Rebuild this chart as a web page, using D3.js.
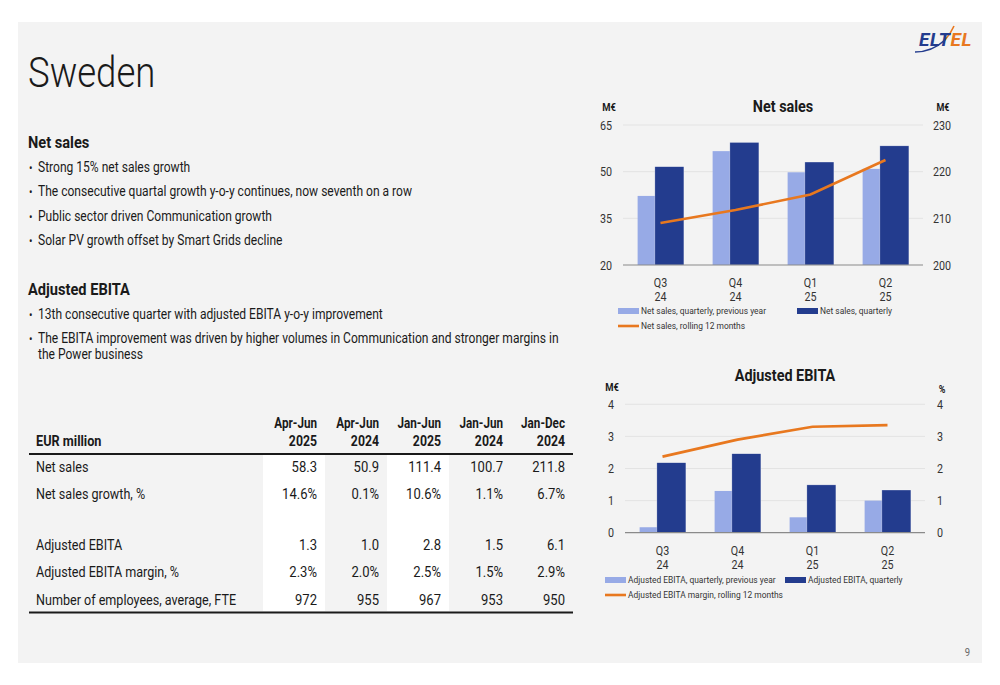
<!DOCTYPE html>
<html><head><meta charset="utf-8">
<script src="https://cdn.jsdelivr.net/npm/d3@7/dist/d3.min.js"></script>
<style>
body{margin:0;background:#fff}
svg{display:block}
text{font-family:Roboto,"Liberation Sans",sans-serif;fill:#1a1a1a}
</style>
</head><body>
<svg id="c" width="1000" height="685"></svg>
<script>
// ---------- data ----------
const quarterLabels = ["Q3","Q4","Q1","Q2"];
const yearLabels = ["24","24","25","25"];

const netSalesPrev = [42.2, 56.6, 49.8, 50.9];
const netSalesCur = [51.6, 59.4, 53.1, 58.3];
const netSalesRolling = [209.0, 211.8, 215.1, 222.5];
const netSalesLeftTicks = [20, 35, 50, 65];
const netSalesRightTicks = [200, 210, 220, 230];

const ebitaPrev = [0.17, 1.3, 0.48, 1.0];
const ebitaCur = [2.18, 2.46, 1.49, 1.33];
const ebitaMargin = [2.37, 2.9, 3.3, 3.35];
const ebitaLeftTicks = [0, 1, 2, 3, 4];
const ebitaRightTicks = [0, 1, 2, 3, 4];

const tableHeadTop = ["Apr-Jun","Apr-Jun","Jan-Jun","Jan-Jun","Jan-Dec"];
const tableHeadBottom = ["2025","2024","2025","2024","2024"];
const rowLabels = ["Net sales","Net sales growth, %","Adjusted EBITA","Adjusted EBITA margin, %","Number of employees, average, FTE"];
const rowNetSales = ["58.3","50.9","111.4","100.7","211.8"];
const rowGrowth = ["14.6%","0.1%","10.6%","1.1%","6.7%"];
const rowEbita = ["1.3","1.0","2.8","1.5","6.1"];
const rowMargin = ["2.3%","2.0%","2.5%","1.5%","2.9%"];
const rowEmployees = ["972","955","967","953","950"];

const netSalesBullets = [
  "Strong 15% net sales growth",
  "The consecutive quartal growth y-o-y continues, now seventh on a row",
  "Public sector driven Communication growth",
  "Solar PV growth offset by Smart Grids decline"
];
const ebitaBullets = [
  ["13th consecutive quarter with adjusted EBITA y-o-y improvement"],
  ["The EBITA improvement was driven by higher volumes in Communication and stronger margins in","the Power business"]
];

// ---------- styles ----------
const C_LIGHT = "#97aae6", C_DARK = "#233c8e", C_ORANGE = "#e8781f";
const svg = d3.select("#c");

svg.append("rect").attr("x",18).attr("y",22).attr("width",964).attr("height",641).attr("fill","#f3f3f3");

// logo
const logo = svg.append("g");
logo.append("path").attr("d","M915,52 Q932,52 945,40").attr("fill","none").attr("stroke",C_DARK).attr("stroke-width",1.6);
logo.append("path").attr("d","M945,40 Q951,33 954,26").attr("fill","none").attr("stroke",C_ORANGE).attr("stroke-width",1.6);
const lt = logo.append("text").attr("x",919).attr("y",46).attr("font-size",19).attr("font-weight","bold").attr("font-style","italic").attr("letter-spacing",0.6).attr("data-sx",1);
lt.append("tspan").text("ELT").style("fill",C_DARK);
lt.append("tspan").text("EL").style("fill",C_ORANGE);

// title
svg.append("text").attr("x",28).attr("y",87).attr("font-size",42).attr("font-weight",300).attr("data-sx",0.87).text("Sweden");

// text blocks
function heading(y, t){ svg.append("text").attr("x",28).attr("y",y).attr("font-size",17).attr("font-weight","bold").text(t); }
function bullet(y, lines){
  svg.append("text").attr("x",29).attr("y",y).attr("font-size",12).text("•");
  lines.forEach((l,i)=> svg.append("text").attr("x",38).attr("y",y+i*16).attr("font-size",14.2).attr("data-sx",0.85).text(l));
}
heading(148, "Net sales");
netSalesBullets.forEach((t,i)=> bullet(172 + i*24.3, [t]));
heading(295, "Adjusted EBITA");
ebitaBullets.forEach((ls,i)=> bullet(319 + i*24.3, ls));

// ---------- table ----------
const colRight = d3.scaleBand().domain(d3.range(5)).range([263, 573]);
const tbl = svg.append("g");
[0,2].forEach(c=> tbl.append("rect").attr("x",colRight(c)).attr("y",455).attr("width",colRight.bandwidth()).attr("height",156).attr("fill","#ffffff"));
tbl.append("line").attr("x1",29).attr("x2",573).attr("y1",454).attr("y2",454).attr("stroke","#1a1a1a").attr("stroke-width",2);
tbl.append("line").attr("x1",29).attr("x2",573).attr("y1",612.5).attr("y2",612.5).attr("stroke","#1a1a1a").attr("stroke-width",2);
tbl.append("text").attr("x",36).attr("y",446).attr("font-size",14.6).attr("font-weight","bold").attr("data-sx",0.87).text("EUR million");
tableHeadTop.forEach((t,i)=>{
  const xr = colRight(i)+colRight.bandwidth()-8;
  tbl.append("text").attr("x",xr).attr("y",428).attr("text-anchor","end").attr("font-size",14.6).attr("font-weight","bold").attr("data-sx",0.8).text(t);
  tbl.append("text").attr("x",xr).attr("y",446).attr("text-anchor","end").attr("font-size",14.6).attr("font-weight","bold").attr("data-sx",0.84).text(tableHeadBottom[i]);
});
const rowsData = [rowNetSales,rowGrowth,rowEbita,rowMargin,rowEmployees];
rowsData.forEach((vals,r)=>{
  const y = 472 + r*27.5 + (r>=2 ? 23 : 0);
  tbl.append("text").attr("x",36).attr("y",y).attr("font-size",14.8).attr("data-sx",0.85).text(rowLabels[r]);
  vals.forEach((v,i)=> tbl.append("text").attr("x",colRight(i)+colRight.bandwidth()-8).attr("y",y).attr("text-anchor","end").attr("font-size",14.8).attr("data-sx",0.88).text(v));
});

// ---------- combo charts ----------
function combo(o){
  const g = svg.append("g");
  const x = d3.scaleBand().domain(d3.range(quarterLabels.length)).range([o.x0,o.x1]);
  const bw = x.bandwidth();
  const yL = d3.scaleLinear().domain(o.leftDomain).range([o.yBottom,o.yTop]);
  const yR = d3.scaleLinear().domain(o.rightDomain).range([o.yBottom,o.yTop]);
  o.leftTicks.forEach(t=>{
    if (t===o.leftDomain[0]) return;
    g.append("line").attr("x1",o.x0).attr("x2",o.x1).attr("y1",yL(t)).attr("y2",yL(t)).attr("stroke","#dedede").attr("stroke-width",0.8);
  });
  const la = g.append("g").attr("transform",`translate(${o.x0},0)`)
    .call(d3.axisLeft(yL).tickValues(o.leftTicks).tickFormat(d3.format("d")).tickSize(0).tickPadding(11));
  la.select(".domain").remove();
  la.selectAll("text").attr("font-size",12.5).style("fill","#333");
  const ra = g.append("g").attr("transform",`translate(${o.x1},0)`)
    .call(d3.axisRight(yR).tickValues(o.rightTicks).tickFormat(d3.format("d")).tickSize(0).tickPadding(o.rightPad));
  ra.select(".domain").remove();
  ra.selectAll("text").attr("font-size",12.5).style("fill","#333");
  const barW = bw*0.387;
  g.selectAll(".bp").data(o.prev).join("rect")
    .attr("x",(d,i)=> x(i)+bw/2 - bw*0.305).attr("width",barW)
    .attr("y",d=>yL(d)).attr("height",d=>yL(o.leftDomain[0])-yL(d)).attr("fill",C_LIGHT);
  g.selectAll(".bc").data(o.cur).join("rect")
    .attr("x",(d,i)=> x(i)+bw/2 - bw*0.075).attr("width",barW)
    .attr("y",d=>yL(d)).attr("height",d=>yL(o.leftDomain[0])-yL(d)).attr("fill",C_DARK)
    .attr("stroke","#ffffff").attr("stroke-width",0.5).attr("stroke-opacity",0.6);
  g.append("line").attr("x1",o.x0).attr("x2",o.x1).attr("y1",o.yBottom).attr("y2",o.yBottom).attr("stroke","#8a8a8a").attr("stroke-width",1.2);
  g.append("path").datum(o.line)
    .attr("d", d3.line().x((d,i)=> x(i)+bw/2).y(d=>yR(d)))
    .attr("fill","none").attr("stroke",C_ORANGE).attr("stroke-width",2.6);
  quarterLabels.forEach((q,i)=>{
    g.append("text").attr("x",x(i)+bw/2).attr("y",o.yBottom+22).attr("text-anchor","middle").attr("font-size",12.5).style("fill","#333").text(q);
    g.append("text").attr("x",x(i)+bw/2).attr("y",o.yBottom+36).attr("text-anchor","middle").attr("font-size",12.5).style("fill","#333").text(yearLabels[i]);
  });
  g.append("text").attr("x",(o.x0+o.x1)/2+10).attr("y",o.titleY).attr("text-anchor","middle").attr("font-size",16).attr("font-weight","bold").attr("data-sx",0.9).text(o.title);
  g.append("text").attr("x",o.unitLX).attr("y",o.unitLY).attr("text-anchor","middle").attr("font-size",11).attr("font-weight","bold").text("M€");
  g.append("text").attr("x",o.unitRX).attr("y",o.unitRY).attr("text-anchor","middle").attr("font-size",10.5).attr("font-weight","bold").text(o.rightUnit);
  const L = o.legend;
  g.append("rect").attr("x",L.x).attr("y",L.y-3).attr("width",21).attr("height",6).attr("fill",C_LIGHT);
  g.append("text").attr("x",L.x+23).attr("y",L.y+3.5).attr("font-size",9.8).style("fill","#333").text(o.legendLabels[0]);
  g.append("rect").attr("x",L.x2).attr("y",L.y-3).attr("width",21).attr("height",6).attr("fill",C_DARK);
  g.append("text").attr("x",L.x2+23).attr("y",L.y+3.5).attr("font-size",9.8).style("fill","#333").text(o.legendLabels[1]);
  g.append("line").attr("x1",L.x).attr("x2",L.x+21).attr("y1",L.y+15).attr("y2",L.y+15).attr("stroke",C_ORANGE).attr("stroke-width",2.6);
  g.append("text").attr("x",L.x+23).attr("y",L.y+18.5).attr("font-size",9.8).style("fill","#333").text(o.legendLabels[2]);
}

combo({
  x0:623, x1:923, yTop:125, yBottom:265,
  leftDomain:[20,65], rightDomain:[200,230], leftTicks:netSalesLeftTicks, rightTicks:netSalesRightTicks, rightPad:10,
  prev:netSalesPrev, cur:netSalesCur, line:netSalesRolling,
  title:"Net sales", titleY:112, unitLX:609, unitLY:111, unitRX:943, unitRY:111, rightUnit:"M€",
  legend:{x:618, y:311, x2:797},
  legendLabels:["Net sales, quarterly, previous year","Net sales, quarterly","Net sales, rolling 12 months"]
});
combo({
  x0:625, x1:925, yTop:404.3, yBottom:532.7,
  leftDomain:[0,4], rightDomain:[0,4], leftTicks:ebitaLeftTicks, rightTicks:ebitaRightTicks, rightPad:12,
  prev:ebitaPrev, cur:ebitaCur, line:ebitaMargin,
  title:"Adjusted EBITA", titleY:381, unitLX:612, unitLY:391, unitRX:942, unitRY:393, rightUnit:"%",
  legend:{x:605, y:580, x2:785},
  legendLabels:["Adjusted EBITA, quarterly, previous year","Adjusted EBITA, quarterly","Adjusted EBITA margin, rolling 12 months"]
});

// page number
svg.append("text").attr("x",970).attr("y",656).attr("text-anchor","end").attr("font-size",11).style("fill","#666").text("9");

// condense all text horizontally around its anchor (the reference uses a narrow typeface)
svg.selectAll("text").each(function(){
  const el = d3.select(this);
  const sx = el.attr("data-sx") != null ? +el.attr("data-sx") : 0.86;
  const x = +(el.attr("x") || 0);
  el.attr("transform", `translate(${x},0) scale(${sx},1) translate(${-x},0)`);
});
</script>
</body></html>
